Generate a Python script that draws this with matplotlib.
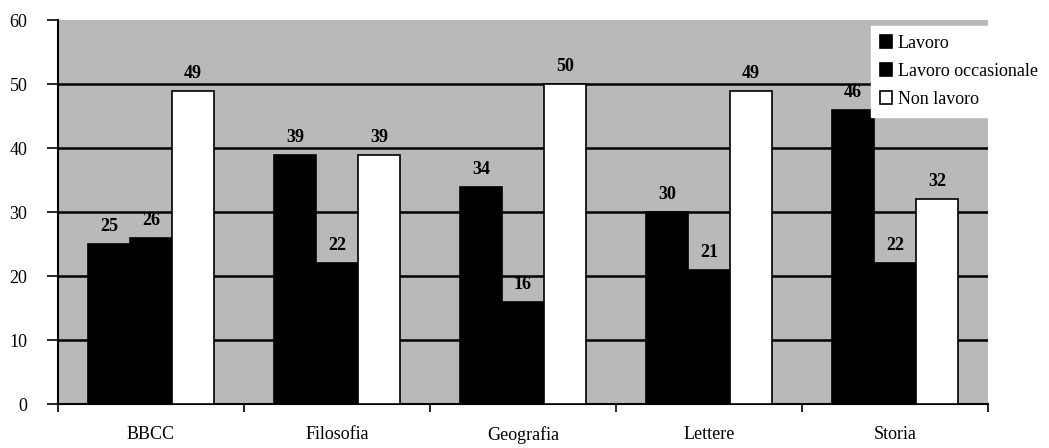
import numpy as np
import matplotlib.pyplot as plt

categories = ["BBCC", "Filosofia", "Geografia", "Lettere", "Storia"]
lavoro = [25, 39, 34, 30, 46]
lavoro_occ = [26, 22, 16, 21, 22]
non_lavoro = [49, 39, 50, 49, 32]
series_names = ["Lavoro", "Lavoro occasionale", "Non lavoro"]

plt.rcParams['font.family'] = ['Liberation Serif', 'DejaVu Serif']

fig = plt.figure(figsize=(10.49, 4.48), dpi=100)
ax = fig.add_axes([0.0553, 0.098, 0.8865, 0.857])
ax.set_facecolor('#b9b9b9')

x = np.arange(len(categories))
w = 0.226
series = [lavoro, lavoro_occ, non_lavoro]
faces = ['black', 'black', 'white']
for i, (vals, fc, name) in enumerate(zip(series, faces, series_names)):
    pos = x + (i - 1) * w
    ax.bar(pos, vals, w, color=fc, edgecolor='black', linewidth=1.2,
           label=name, zorder=3)
    for p, v in zip(pos, vals):
        ax.text(p, v + 1.4, str(v), ha='center', va='bottom',
                fontsize=13, fontweight='bold', zorder=4)

ax.set_xlim(-0.5, len(categories) - 0.5)
ax.set_ylim(0, 60)
ax.set_yticks(range(0, 61, 10))
ax.yaxis.grid(True, color='black', linewidth=1.8, zorder=1)
ax.get_ygridlines()[-1].set_visible(False)
ax.set_axisbelow(True)

ax.set_xticks(x)
ax.set_xticklabels(categories, fontsize=13)
ax.tick_params(axis='x', length=0, pad=16)
ax.set_xticks(np.arange(-0.5, len(categories)), minor=True)
ax.tick_params(axis='x', which='minor', length=6, width=1.2, direction='out')
ax.tick_params(axis='y', labelsize=13, length=8, width=1.2, pad=14)

for s in ['top', 'right']:
    ax.spines[s].set_visible(False)
ax.spines['left'].set_linewidth(1.5)
ax.spines['bottom'].set_linewidth(1.5)

leg = ax.legend(loc='upper left', bbox_to_anchor=(0.874, 0.985),
                frameon=True, fancybox=False, edgecolor='white',
                facecolor='white', framealpha=1, fontsize=13,
                handlelength=0.7, handleheight=0.7, handletextpad=0.3,
                borderpad=0.5, labelspacing=0.6, borderaxespad=0)
leg.set_zorder(5)

fig.savefig("out.png", dpi=100)
